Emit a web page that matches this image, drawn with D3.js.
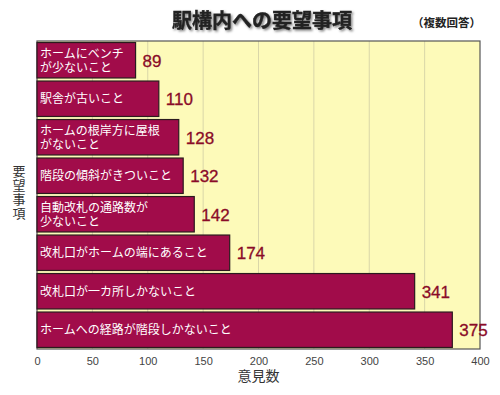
<!DOCTYPE html>
<html>
<head>
<meta charset="utf-8">
<script src="https://cdn.jsdelivr.net/npm/d3@7"></script>
<style>
  body { margin: 0; background: #fff; }
  svg { font-family: "Noto Sans CJK JP", "Noto Sans", sans-serif; }
</style>
</head>
<body>
<svg id="chart" width="500" height="395"></svg>
<script>
(function () {
    'use strict';

    const items = [
        ['ホームにベンチ', 'が少ないこと'],
        ['駅舎が古いこと'],
        ['ホームの根岸方に屋根', 'がないこと'],
        ['階段の傾斜がきついこと'],
        ['自動改札の通路数が', '少ないこと'],
        ['改札口がホームの端にあること'],
        ['改札口が一カ所しかないこと'],
        ['ホームへの経路が階段しかないこと']
    ];
    const counts = [89, 110, 128, 132, 142, 174, 341, 375];
    const ticks = [0, 50, 100, 150, 200, 250, 300, 350, 400];

    const data = items.map((lines, i) => ({ id: i, lines: lines, va: counts[i] }));

    const ma = { top: 41, right: 20, bottom: 46, left: 37 };
    const sv = d3.select('#chart');
    const wi = 500 - ma.left - ma.right;
    const he = 395 - ma.top - ma.bottom;

    const defs = sv.append('defs');
    const fi = defs.append('filter').attr('id', 'shadow')
        .attr('x', '-10%').attr('y', '-30%').attr('width', '130%').attr('height', '170%');
    fi.append('feDropShadow').attr('dx', 1.5).attr('dy', 1.5)
        .attr('stdDeviation', 1.2).attr('flood-color', '#000').attr('flood-opacity', 0.5);

    const x_sc = d3.scaleLinear().domain([0, 400]).range([0, wi]);
    const y_sc = d3.scaleBand().domain(data.map(d => d.id)).range([0, he])
        .paddingInner(0.08).paddingOuter(0.04);

    const gr = sv.append('g').attr('transform', `translate(${ma.left},${ma.top})`);

    // plot background
    gr.append('rect')
        .attr('x', 0).attr('y', 0).attr('width', wi).attr('height', he)
        .attr('fill', '#fdfab9');

    // grid
    gr.append('g')
        .selectAll('line')
        .data(ticks.slice(1, -1))
        .enter()
        .append('line')
        .attr('x1', d => x_sc(d)).attr('x2', d => x_sc(d))
        .attr('y1', 0).attr('y2', he)
        .attr('stroke', '#d9d6a8')
        .attr('stroke-width', 1);

    // border
    gr.append('rect')
        .attr('x', 0).attr('y', 0).attr('width', wi).attr('height', he)
        .attr('fill', 'none')
        .attr('stroke', '#555')
        .attr('stroke-width', 1.2);

    // x axis
    const x_ax = d3.axisBottom(x_sc).tickValues(ticks).tickSize(0).tickPadding(8);
    const xg = gr.append('g')
        .attr('transform', `translate(0,${he})`)
        .call(x_ax);
    xg.select('.domain').remove();
    xg.selectAll('text')
        .style('font-family', '"Liberation Sans", Arial, sans-serif')
        .style('font-size', '11px')
        .style('fill', '#444');

    // bars
    const ba = gr.selectAll('.bar')
        .data(data)
        .enter()
        .append('g')
        .attr('class', 'bar')
        .attr('transform', d => `translate(0,${y_sc(d.id)})`);

    ba.append('rect')
        .attr('x', 0)
        .attr('y', 0)
        .attr('width', d => x_sc(d.va))
        .attr('height', y_sc.bandwidth())
        .attr('fill', '#a10c4a')
        .attr('stroke', '#2b1a1e')
        .attr('stroke-width', 1.2);

    // bar labels, one text per line
    ba.each(function (d) {
        const g = d3.select(this);
        const mid = y_sc.bandwidth() / 2;
        const lh = 14;
        d.lines.forEach((t, i) => {
            const off = (i - (d.lines.length - 1) / 2) * lh;
            g.append('text')
                .attr('x', 3)
                .attr('y', mid + off)
                .attr('dy', '0.36em')
                .attr('fill', '#fff')
                .style('font-size', '12px')
                .text(t);
        });
    });

    ba.append('text')
        .attr('x', d => x_sc(d.va) + 7)
        .attr('y', y_sc.bandwidth() / 2)
        .attr('dy', '0.38em')
        .attr('fill', '#8a0b28')
        .attr('stroke', '#8a0b28')
        .attr('stroke-width', 0.3)
        .style('font-family', '"Liberation Sans", Arial, sans-serif')
        .style('font-size', '17px')
        .text(d => d.va);

    // title
    sv.append('text')
        .attr('x', 262)
        .attr('y', 28)
        .attr('text-anchor', 'middle')
        .attr('filter', 'url(#shadow)')
        .attr('stroke', '#222')
        .attr('stroke-width', 0.4)
        .style('font-size', '20px')
        .style('font-weight', 'bold')
        .style('fill', '#222')
        .text('駅構内への要望事項');

    sv.append('text')
        .attr('x', 481)
        .attr('y', 27)
        .attr('text-anchor', 'end')
        .style('font-size', '11.5px')
        .style('font-weight', 'bold')
        .style('fill', '#222')
        .text('（複数回答）');

    // y axis title (vertical)
    sv.append('text')
        .attr('x', 19)
        .attr('y', 165)
        .style('writing-mode', 'vertical-rl')
        .style('font-size', '13px')
        .style('letter-spacing', '1px')
        .style('fill', '#333')
        .text('要望事項');

    // x axis title
    sv.append('text')
        .attr('x', ma.left + wi / 2)
        .attr('y', 381)
        .attr('text-anchor', 'middle')
        .style('font-size', '14px')
        .style('fill', '#333')
        .text('意見数');
})();
</script>
</body>
</html>
